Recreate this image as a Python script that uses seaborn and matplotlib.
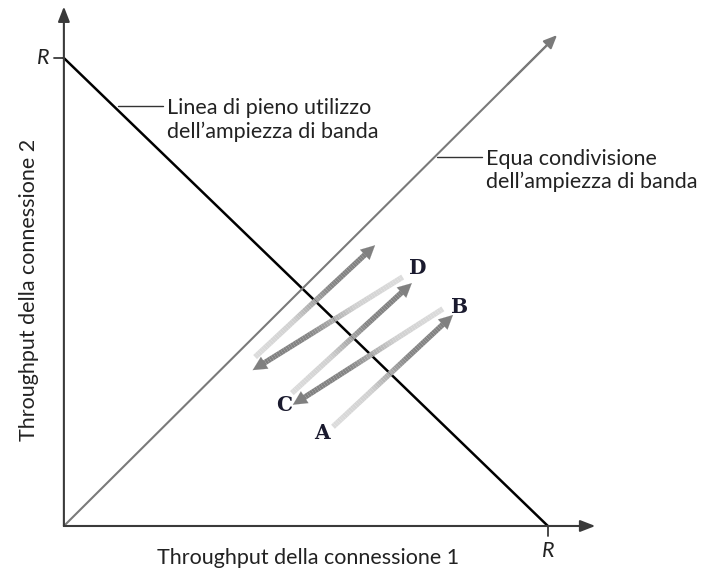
import numpy as np
import matplotlib
matplotlib.use("Agg")
import matplotlib.pyplot as plt
from matplotlib.collections import LineCollection
from matplotlib.colors import LinearSegmentedColormap
import seaborn as sns

# throughput units, R = 1
R = 1.0
full_x = [0.0, R]
full_y = [R, 0.0]
fair_x = [0.0, 1.019]
fair_y = [0.0, 1.049]

# AIMD path: start and end of every arrow
arrow_x0 = [0.556, 0.783, 0.471, 0.700, 0.395]
arrow_y0 = [0.212, 0.464, 0.284, 0.532, 0.361]
arrow_x1 = [0.804, 0.473, 0.719, 0.390, 0.643]
arrow_y1 = [0.451, 0.259, 0.519, 0.333, 0.600]

point_names = ["A", "B", "C", "D"]
point_x = [0.533, 0.818, 0.455, 0.731]
point_y = [0.199, 0.468, 0.259, 0.551]

sns.set_style("white")
plt.rcParams['font.family'] = ['Lato', 'DejaVu Sans']

fig = plt.figure(figsize=(7.10, 5.77), dpi=100)
ax = fig.add_axes([0, 0, 1, 1])
ax.set_xlim(-0.132, 1.335)
ax.set_ylim(-0.109, 1.124)
ax.axis("off")

axis_col = "#3a3a3a"
# axes with arrow heads
ax.annotate("", xy=(0, 1.11), xytext=(0, 0),
            arrowprops=dict(arrowstyle="-|>,head_length=0.9,head_width=0.35", color=axis_col, lw=1.5, shrinkA=0, shrinkB=0))
ax.annotate("", xy=(1.098, 0), xytext=(0, 0),
            arrowprops=dict(arrowstyle="-|>,head_length=0.9,head_width=0.35", color=axis_col, lw=1.5, shrinkA=0, shrinkB=0))
ax.plot([-0.021, 0], [R, R], color=axis_col, lw=1.3)
ax.plot([R, R], [0, -0.021], color=axis_col, lw=1.3)
ax.text(-0.03, R, "R", style="italic", fontsize=15.5, ha="right", va="center", color="#222222")
ax.text(R, -0.033, "R", style="italic", fontsize=15.5, ha="center", va="top", color="#222222")

# full bandwidth utilization line
sns.lineplot(x=full_x, y=full_y, ax=ax, color="black", lw=1.8, sort=False)
# equal share line
sns.lineplot(x=fair_x[:1] + [fair_x[1] * 0.98], y=fair_y[:1] + [fair_y[1] * 0.98], ax=ax, color="#7a7a7a", lw=1.5, sort=False)
ax.annotate("", xy=(fair_x[1], fair_y[1]), xytext=(fair_x[1] * 0.9, fair_y[1] * 0.9),
            arrowprops=dict(arrowstyle="-|>,head_length=0.8,head_width=0.35", color="#7a7a7a", lw=1.5, shrinkA=0, shrinkB=0))

# gradient arrows
cmap = LinearSegmentedColormap.from_list("g", ["#dcdcdc", "#d0d0d0", "#858585", "#808080"])
for x0, y0, x1, y1 in zip(arrow_x0, arrow_y0, arrow_x1, arrow_y1):
    t = np.linspace(0, 1, 60)
    tx = x0 + (x1 - x0) * t * 0.93
    ty = y0 + (y1 - y0) * t * 0.93
    pts = np.column_stack([tx, ty]).reshape(-1, 1, 2)
    segs = np.concatenate([pts[:-1], pts[1:]], axis=1)
    lc = LineCollection(segs, colors=cmap(t[:-1]), linewidths=4, capstyle="butt")
    ax.add_collection(lc)
    ax.annotate("", xy=(x1, y1), xytext=(x0 + (x1 - x0) * 0.9, y0 + (y1 - y0) * 0.9),
                arrowprops=dict(arrowstyle="-|>,head_length=1.0,head_width=0.5", color="#808080", lw=0.1, shrinkA=0, shrinkB=0))

for name, px, py in zip(point_names, point_x, point_y):
    ax.text(px, py, name, fontsize=14.5, fontweight="bold", family="DejaVu Serif", ha="center", va="center", color="#1a1a2e")

# leader lines and labels
ax.plot([0.112, 0.205], [0.897, 0.897], color="#333333", lw=1)
ax.text(0.213, 0.868, "Linea di pieno utilizzo\ndell\u2019ampiezza di banda", fontsize=15.5,
        ha="left", va="center", linespacing=1.2, color="#222222")
ax.plot([0.771, 0.864], [0.788, 0.788], color="#333333", lw=1)
ax.text(0.872, 0.760, "Equa condivisione\ndell\u2019ampiezza di banda", fontsize=15.5,
        ha="left", va="center", linespacing=1.2, color="#222222")

ax.text(0.504, -0.068, "Throughput della connessione 1", fontsize=15.5, ha="center", va="center", color="#222222")
ax.text(-0.072, 0.504, "Throughput della connessione 2", fontsize=15.5, ha="center", va="center", rotation=90, color="#222222")

fig.savefig("out.png", dpi=100)
